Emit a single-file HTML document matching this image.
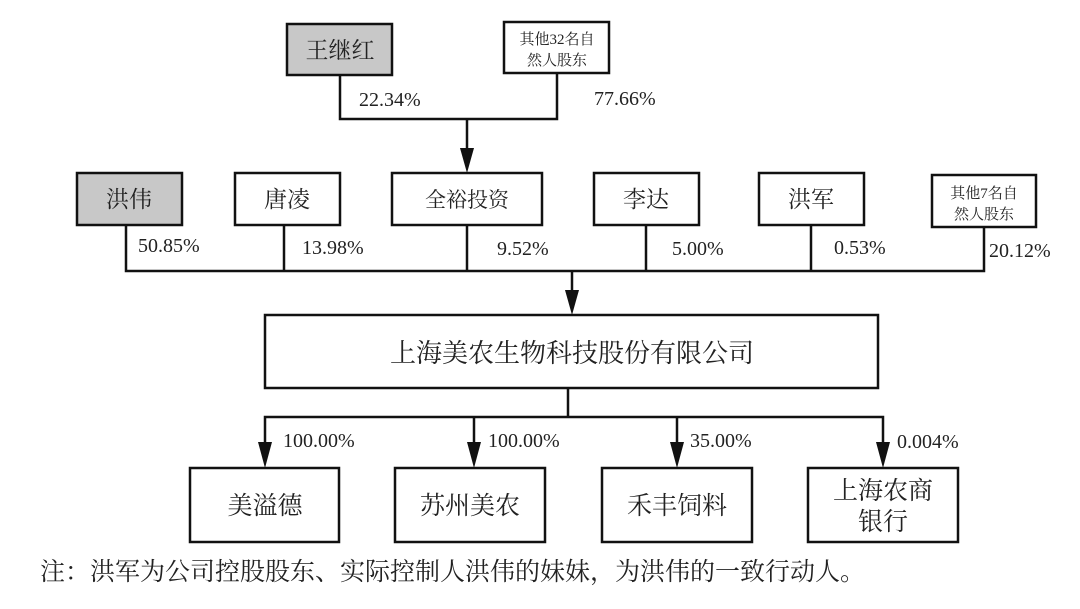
<!DOCTYPE html>
<html><head><meta charset="utf-8"><style>
body{margin:0;background:#fff;width:1080px;height:604px;overflow:hidden}
svg text{font-family:"Liberation Serif","Noto Serif CJK SC","Noto Sans CJK SC",serif;fill:#222}
</style></head><body>
<svg width="1080" height="604" viewBox="0 0 1080 604">
<g stroke="#111" stroke-width="2.5" fill="none">
<rect x="287" y="24" width="105" height="51" fill="#c8c8c8"/>
<rect x="504" y="22" width="105" height="51" fill="#fff"/>
<polyline points="340,75 340,119 557,119 557,73"/>
<line x1="467" y1="119" x2="467" y2="150"/>
<rect x="77" y="173" width="105" height="52" fill="#c8c8c8"/>
<rect x="235" y="173" width="105" height="52"/>
<rect x="392" y="173" width="150" height="52"/>
<rect x="594" y="173" width="105" height="52"/>
<rect x="759" y="173" width="105" height="52"/>
<rect x="932" y="175" width="104" height="52"/>
<polyline points="126,225 126,271 984,271 984,227"/>
<line x1="284" y1="225" x2="284" y2="271"/>
<line x1="467" y1="225" x2="467" y2="271"/>
<line x1="646" y1="225" x2="646" y2="271"/>
<line x1="811" y1="225" x2="811" y2="271"/>
<line x1="572" y1="271" x2="572" y2="292"/>
<rect x="265" y="315" width="613" height="73"/>
<line x1="568" y1="388" x2="568" y2="417"/>
<polyline points="265,443 265,417 883,417 883,443"/>
<line x1="474" y1="417" x2="474" y2="443"/>
<line x1="677" y1="417" x2="677" y2="443"/>
<rect x="190" y="468" width="149" height="74"/>
<rect x="395" y="468" width="150" height="74"/>
<rect x="602" y="468" width="150" height="74"/>
<rect x="808" y="468" width="150" height="74"/>
</g>
<g fill="#111">
<polygon points="460,148 474,148 467,173"/>
<polygon points="565,290 579,290 572,315"/>
<polygon points="258,442 272,442 265,468"/>
<polygon points="467,442 481,442 474,468"/>
<polygon points="670,442 684,442 677,468"/>
<polygon points="876,442 890,442 883,468"/>
</g>
<g font-size="23" text-anchor="middle">
<text x="340" y="58">王继红</text>
<text x="129" y="207">洪伟</text>
<text x="287" y="207">唐凌</text>
<text x="467" y="207" font-size="21">全裕投资</text>
<text x="646" y="207">李达</text>
<text x="811" y="207">洪军</text>
<text x="572" y="362" font-size="26">上海美农生物科技股份有限公司</text>
<text x="265" y="514" font-size="25">美溢德</text>
<text x="470" y="514" font-size="25">苏州美农</text>
<text x="677" y="514" font-size="25">禾丰饲料</text>
<text x="883" y="499" font-size="25">上海农商</text>
<text x="883" y="530" font-size="25">银行</text>
<text x="557" y="44" font-size="15">其他32名自</text>
<text x="557" y="65" font-size="15">然人股东</text>
<text x="984" y="198" font-size="15">其他7名自</text>
<text x="984" y="219" font-size="15">然人股东</text>
</g>
<g font-size="20">
<text x="359" y="106">22.34%</text>
<text x="594" y="105">77.66%</text>
<text x="138" y="252">50.85%</text>
<text x="302" y="254">13.98%</text>
<text x="497" y="255">9.52%</text>
<text x="672" y="255">5.00%</text>
<text x="834" y="254">0.53%</text>
<text x="989" y="257">20.12%</text>
<text x="283" y="447">100.00%</text>
<text x="488" y="447">100.00%</text>
<text x="690" y="447">35.00%</text>
<text x="897" y="448">0.004%</text>
</g>
<text x="40" y="580" font-size="25">注：洪军为公司控股股东、实际控制人洪伟的妹妹，为洪伟的一致行动人。</text>
</svg>
</body></html>
